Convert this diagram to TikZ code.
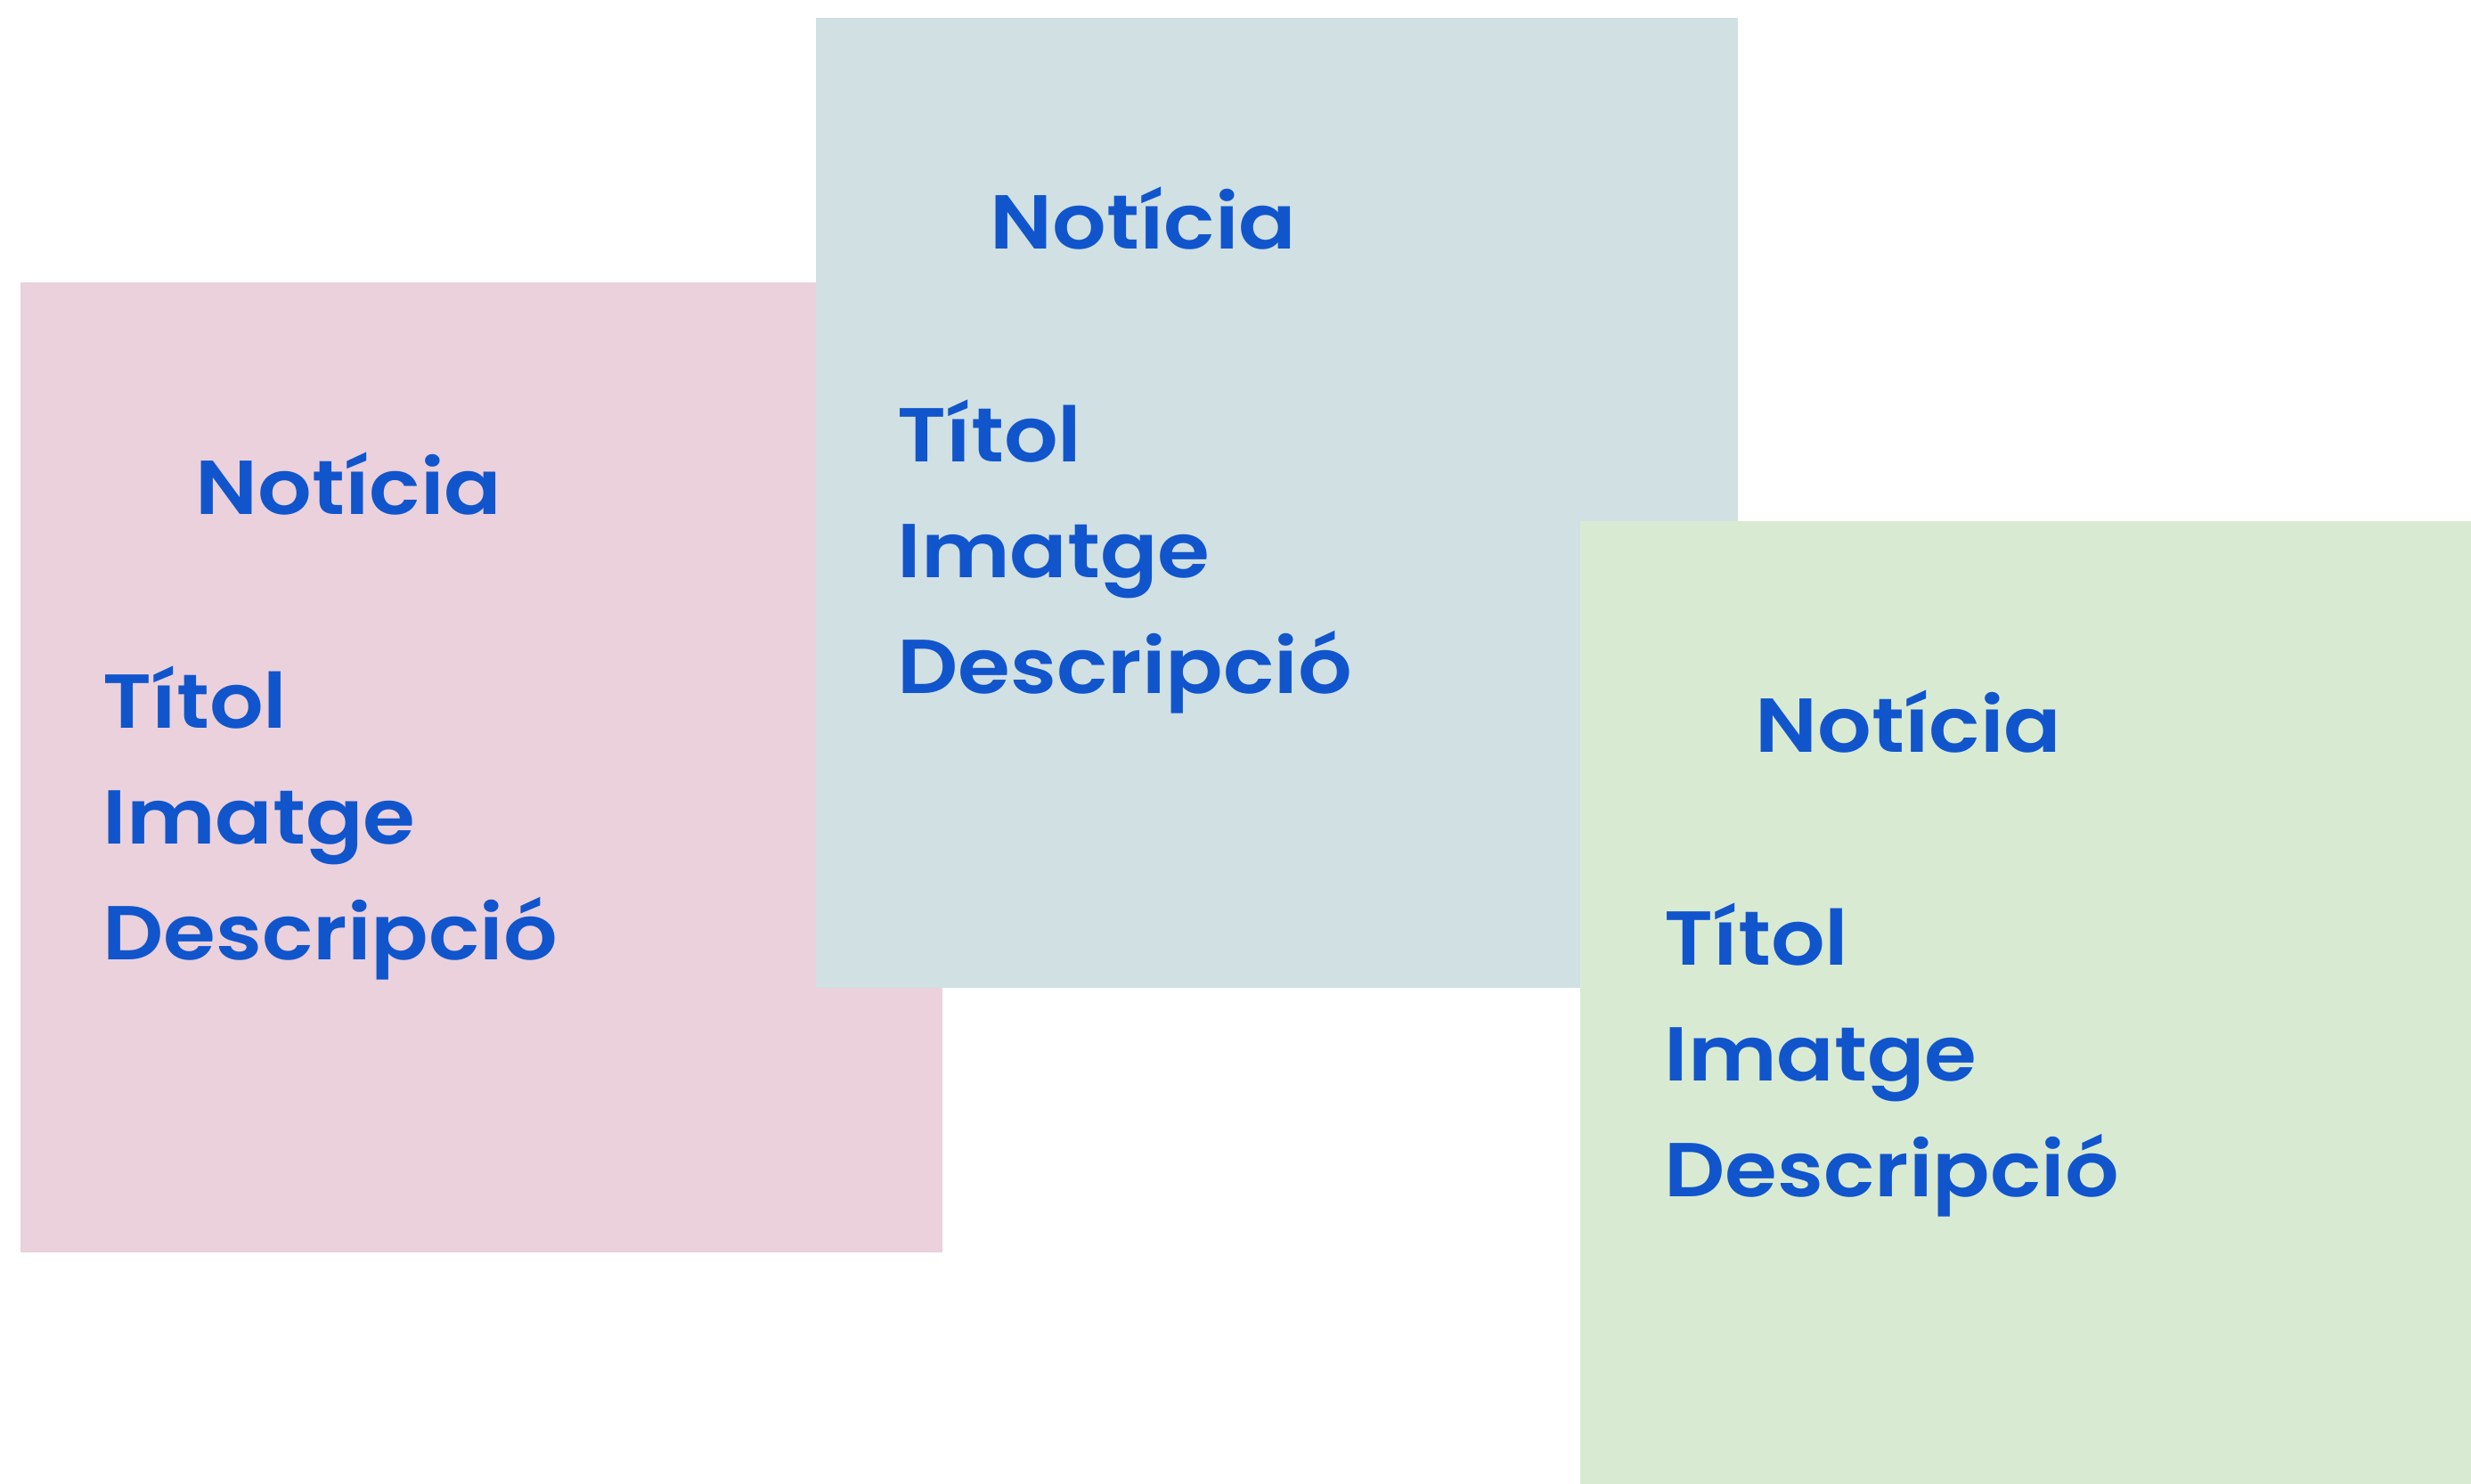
\documentclass[tikz,border=0pt]{standalone}
\usepackage{fontspec}
\newfontfamily\cardfont{Poppins}[UprightFont=* SemiBold, FakeStretch=1.11]
\usetikzlibrary{positioning}
\definecolor{cardpink}{HTML}{EAD1DC}
\definecolor{cardblue}{HTML}{D0E0E3}
\definecolor{cardgreen}{HTML}{D9EAD3}
\definecolor{cardtext}{HTML}{1155CC}

\begin{document}
\begin{tikzpicture}[
  card/.style={anchor=north west, inner sep=0pt, minimum width=10.35cm,
               minimum height=10.89cm},
  lbl/.style={anchor=base west, inner sep=0pt, text=cardtext,
              font=\cardfont\fontsize{24.4}{30}\selectfont}
]
\useasboundingbox (0,0) rectangle (27.74,-16.65);

% ================= cards, back to front =================
\node[card, fill=cardpink]  (pink)  at ( 0.22,-3.16) {};
\node[card, fill=cardblue]  (blue)  at ( 9.15,-0.19) {};
\node[card, fill=cardgreen, minimum width=10.01cm, minimum height=10.81cm]
      (green) at (17.73,-5.84) {};

% ================= pink card =================
\node[lbl] (pinkhead)  at ([shift={(1.97,-2.61)}]pink.north west) {Notícia};
\node[lbl] (pinktitle) at ([shift={(0.93,-5.01)}]pink.north west) {Títol};
\node[lbl] (pinkimg)   at ([yshift=-1.30cm]pinktitle.base west) {Imatge};
\node[lbl] (pinkdesc)  at ([yshift=-1.30cm]pinkimg.base west) {Descripció};

% ================= blue card =================
\node[lbl] (bluehead)  at ([shift={(1.96,-2.60)}]blue.north west) {Notícia};
\node[lbl] (bluetitle) at ([shift={(0.92,-4.99)}]blue.north west) {Títol};
\node[lbl] (blueimg)   at ([yshift=-1.30cm]bluetitle.base west) {Imatge};
\node[lbl] (bluedesc)  at ([yshift=-1.30cm]blueimg.base west) {Descripció};

% ================= green card =================
\node[lbl] (greenhead)  at ([shift={(1.97,-2.60)}]green.north west) {Notícia};
\node[lbl] (greentitle) at ([shift={(0.95,-4.99)}]green.north west) {Títol};
\node[lbl] (greenimg)   at ([yshift=-1.30cm]greentitle.base west) {Imatge};
\node[lbl] (greendesc)  at ([yshift=-1.30cm]greenimg.base west) {Descripció};
\end{tikzpicture}
\end{document}
